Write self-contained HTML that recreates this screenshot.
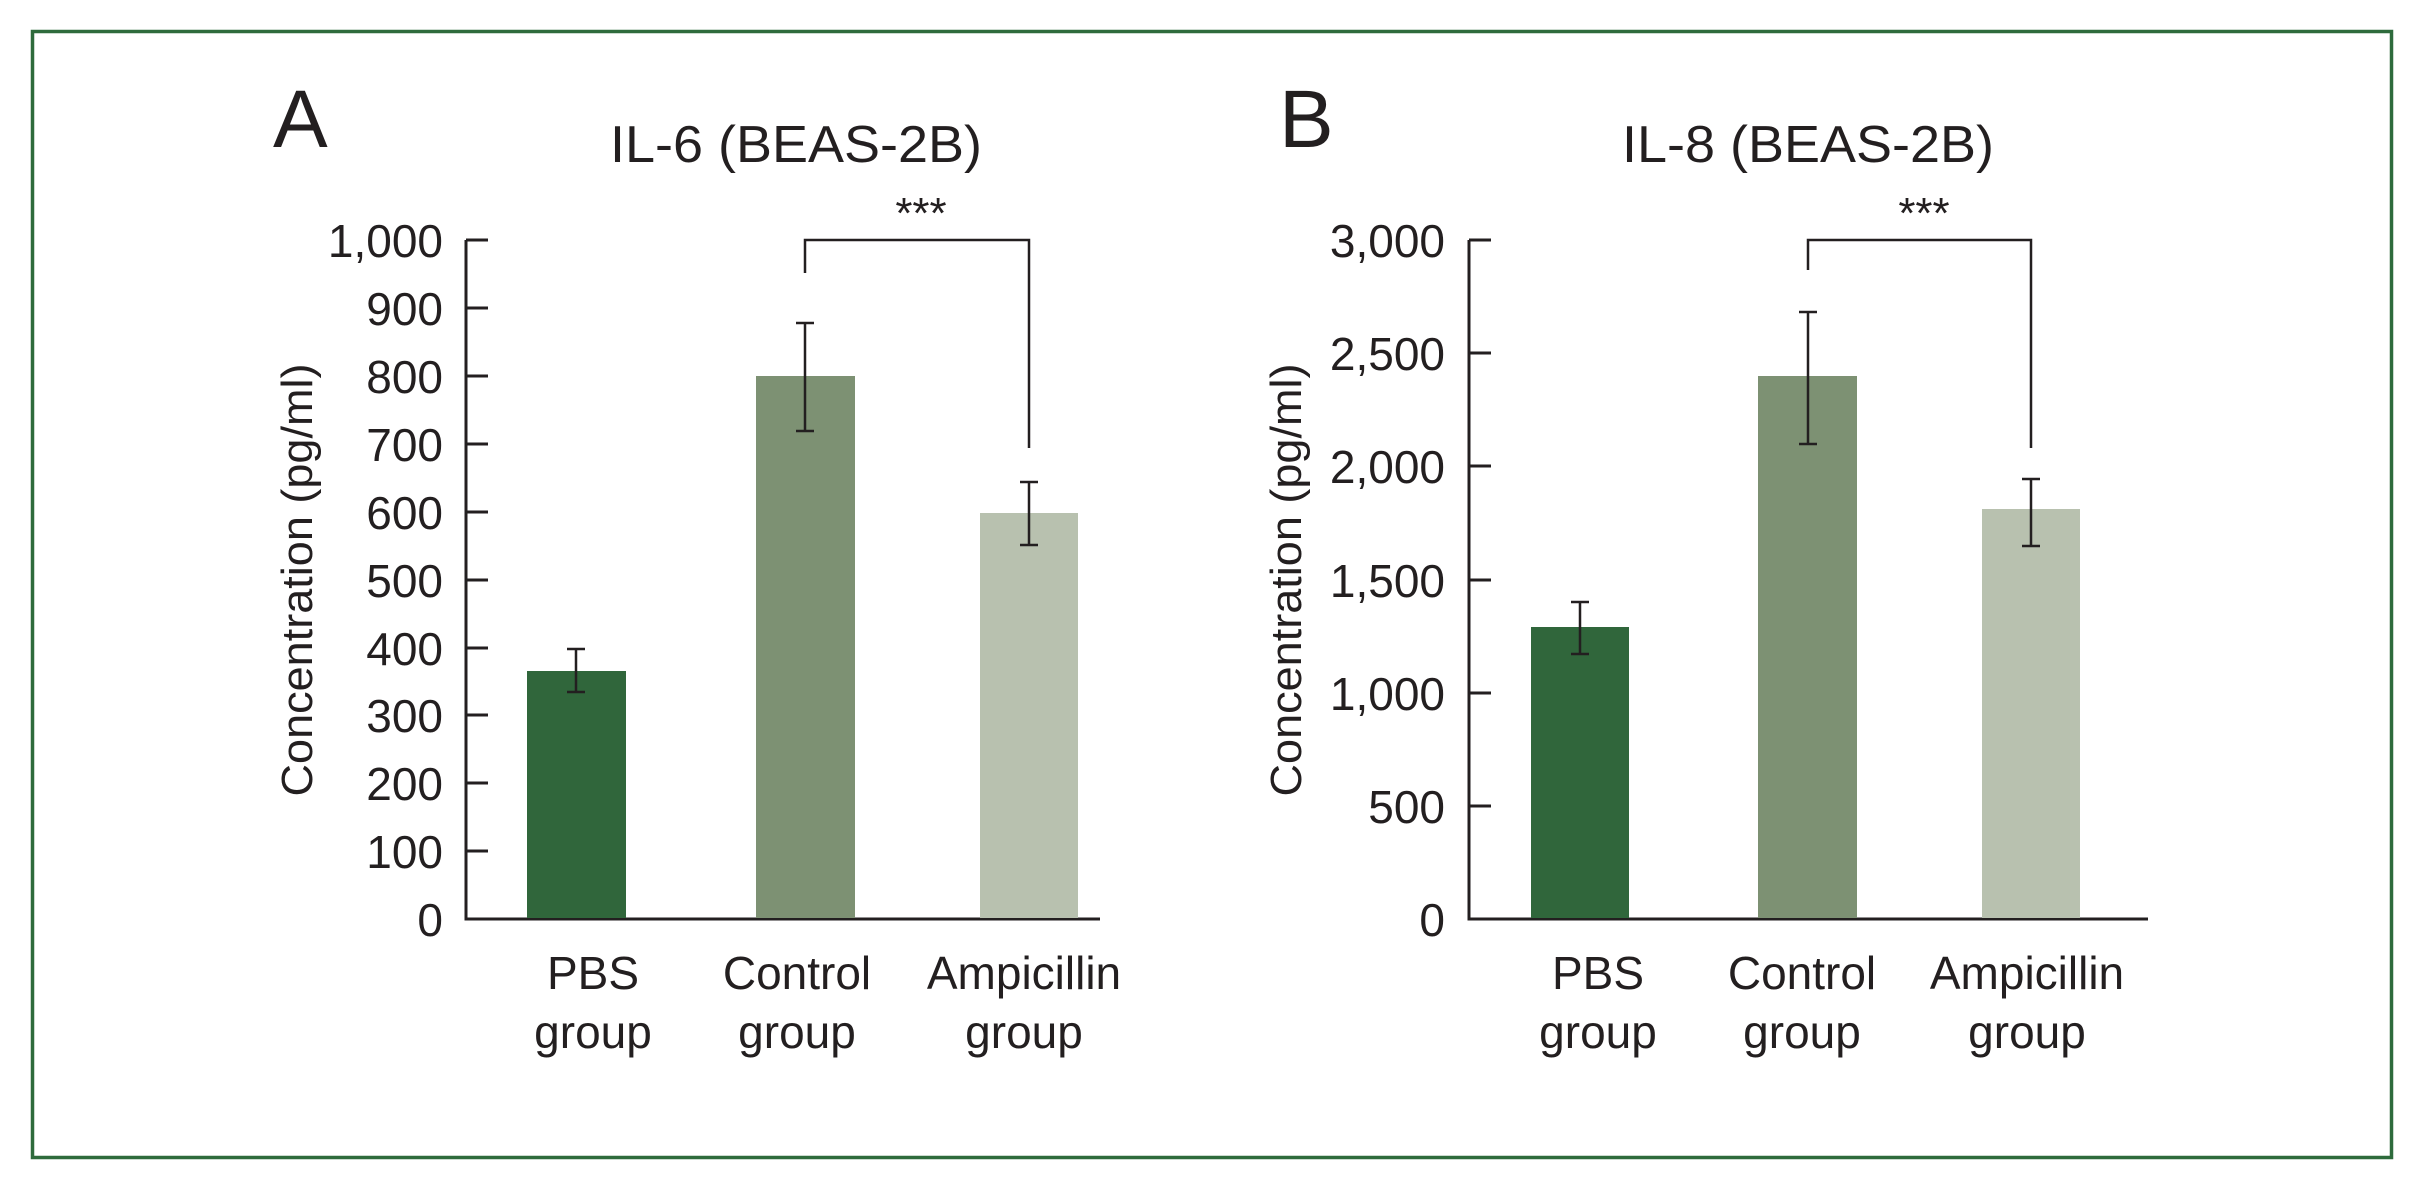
<!DOCTYPE html>
<html><head><meta charset="utf-8"><style>
html,body{margin:0;padding:0;background:#fff;}
svg{display:block;}
text{font-family:"Liberation Sans",Arial,sans-serif;fill:#231f20;}
</style></head><body>
<svg width="2423" height="1192" viewBox="0 0 2423 1192" xmlns="http://www.w3.org/2000/svg">
<rect x="32.5" y="31.5" width="2359" height="1126" fill="none" stroke="#2e6b3c" stroke-width="3.5"/>

<!-- Panel A -->
<text x="273" y="147" font-size="82">A</text>
<text x="796" y="162" font-size="52" text-anchor="middle" textLength="372" lengthAdjust="spacingAndGlyphs">IL-6 (BEAS-2B)</text>
<text transform="translate(312,580) rotate(-90)" font-size="44" text-anchor="middle" textLength="433" lengthAdjust="spacingAndGlyphs">Concentration (pg/ml)</text>
<g stroke="#231f20" stroke-width="3" fill="none">
<path d="M466 240 V919 H1100"/>
<path d="M466 240 H488 M466 308 H488 M466 376 H488 M466 444 H488 M466 512 H488 M466 580 H488 M466 648 H488 M466 715 H488 M466 783 H488 M466 851 H488"/>
</g>
<g font-size="46" text-anchor="end">
<text x="443" y="257">1,000</text><text x="443" y="325">900</text><text x="443" y="393">800</text>
<text x="443" y="461">700</text><text x="443" y="529">600</text><text x="443" y="597">500</text>
<text x="443" y="665">400</text><text x="443" y="732">300</text><text x="443" y="800">200</text>
<text x="443" y="868">100</text><text x="443" y="936">0</text>
</g>
<rect x="527" y="671" width="99" height="247" fill="#30663b"/>
<rect x="756" y="376" width="99" height="542" fill="#7d9173"/>
<rect x="980" y="513" width="98" height="405" fill="#b8c1af"/>
<g stroke="#231f20" stroke-width="2.5" fill="none">
<path d="M576 649 V692 M567 649 H585 M567 692 H585"/>
<path d="M805 323 V431 M796 323 H814 M796 431 H814"/>
<path d="M1029 482 V545 M1020 482 H1038 M1020 545 H1038"/>
<path d="M805 273 V240 H1029 V448"/>
</g>
<text x="921" y="228" font-size="44" text-anchor="middle">***</text>
<g font-size="46" text-anchor="middle">
<text x="593" y="989">PBS</text><text x="593" y="1048">group</text>
<text x="797" y="989">Control</text><text x="797" y="1048">group</text>
<text x="1024" y="989">Ampicillin</text><text x="1024" y="1048">group</text>
</g>

<!-- Panel B -->
<text x="1279" y="147" font-size="82">B</text>
<text x="1808" y="162" font-size="52" text-anchor="middle" textLength="372" lengthAdjust="spacingAndGlyphs">IL-8 (BEAS-2B)</text>
<text transform="translate(1301,580) rotate(-90)" font-size="44" text-anchor="middle" textLength="433" lengthAdjust="spacingAndGlyphs">Concentration (pg/ml)</text>
<g stroke="#231f20" stroke-width="3" fill="none">
<path d="M1469 240 V919 H2148"/>
<path d="M1469 240 H1491 M1469 353 H1491 M1469 466 H1491 M1469 580 H1491 M1469 693 H1491 M1469 806 H1491"/>
</g>
<g font-size="46" text-anchor="end">
<text x="1445" y="257">3,000</text><text x="1445" y="370">2,500</text><text x="1445" y="483">2,000</text>
<text x="1445" y="597">1,500</text><text x="1445" y="710">1,000</text><text x="1445" y="823">500</text>
<text x="1445" y="936">0</text>
</g>
<rect x="1531" y="627" width="98" height="291" fill="#30663b"/>
<rect x="1758" y="376" width="99" height="542" fill="#7d9173"/>
<rect x="1982" y="509" width="98" height="409" fill="#b8c1af"/>
<g stroke="#231f20" stroke-width="2.5" fill="none">
<path d="M1580 602 V654 M1571 602 H1589 M1571 654 H1589"/>
<path d="M1808 312 V444 M1799 312 H1817 M1799 444 H1817"/>
<path d="M2031 479 V546 M2022 479 H2040 M2022 546 H2040"/>
<path d="M1808 270 V240 H2031 V448"/>
</g>
<text x="1924" y="228" font-size="44" text-anchor="middle">***</text>
<g font-size="46" text-anchor="middle">
<text x="1598" y="989">PBS</text><text x="1598" y="1048">group</text>
<text x="1802" y="989">Control</text><text x="1802" y="1048">group</text>
<text x="2027" y="989">Ampicillin</text><text x="2027" y="1048">group</text>
</g>
</svg>
</body></html>
